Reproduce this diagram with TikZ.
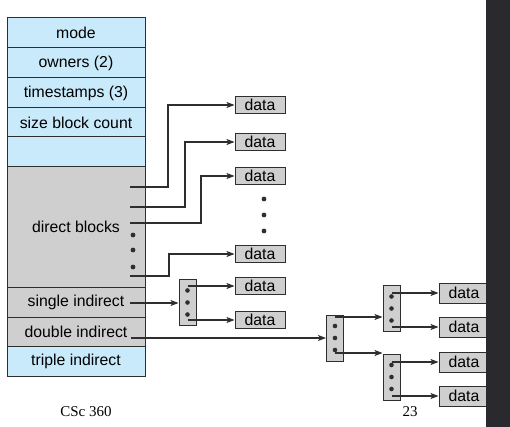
\documentclass[tikz,border=0pt]{standalone}
\usepackage{fontspec}
\setmainfont{Liberation Sans}
\newfontfamily\footfont{Liberation Serif}
\usetikzlibrary{arrows.meta}
\definecolor{inodeblue}{HTML}{C8EAFA}
\definecolor{blockgray}{HTML}{CFCFCF}
\definecolor{linegray}{HTML}{2E2E2E}
\definecolor{bargray}{HTML}{2A2A2E}

\begin{document}
\begin{tikzpicture}[x=1pt,y=-1pt]

\tikzset{field/.style = {shape=rectangle,draw=linegray,line width=1pt,minimum width=138pt,inner sep=0pt,font=\fontsize{15.8}{18}\selectfont}}
\tikzset{datablock/.style = {shape=rectangle,draw=linegray,fill=blockgray,line width=1pt,minimum width=50pt,minimum height=17pt,inner sep=0pt,font=\fontsize{15.8}{18}\selectfont}}
\tikzset{ptrblock/.style = {shape=rectangle,draw=linegray,fill=blockgray,line width=1pt,minimum width=17pt,minimum height=46pt,inner sep=0pt}}
\tikzset{edge/.style = {-{Stealth[length=8pt,width=6pt,inset=2pt]},draw=linegray,line width=1.1pt}}
\tikzset{dot/.style = {fill=linegray}}

\useasboundingbox (0,0) rectangle (510,427);

%inode fields
\node[field, fill=inodeblue, minimum height=30pt] (mode) at (76,33) {mode};
\node[field, fill=inodeblue, minimum height=30pt] (owners) at (76,63) {owners (2)};
\node[field, fill=inodeblue, minimum height=30pt] (stamps) at (76,93) {timestamps (3)};
\node[field, fill=inodeblue, minimum height=29pt] (size) at (76,122.5) {size block count};
\node[field, fill=inodeblue, minimum height=30pt] (blank) at (76,152) {};
\node[field, fill=blockgray, minimum height=120pt] (direct) at (76,227) {direct blocks};
\node[field, fill=blockgray, minimum height=30pt] (single) at (76,302) {single indirect};
\node[field, fill=blockgray, minimum height=29pt] (double) at (76,331.5) {double indirect};
\node[field, fill=inodeblue, minimum height=30pt] (triple) at (76,361) {triple indirect};

%pointer starts
\coordinate (p1) at (130,187);
\coordinate (p2) at (130,207);
\coordinate (p3) at (130,223);
\coordinate (p4) at (130,276);
\coordinate (s1) at (130,303);
\coordinate (dd) at (131,338);

%data blocks
\node[datablock] (d1) at (260,105) {data};
\node[datablock] (d2) at (260,142) {data};
\node[datablock] (d3) at (260,176) {data};
\node[datablock] (d4) at (260,254) {data};
\node[datablock] (d5) at (260,286) {data};
\node[datablock] (d6) at (260,320) {data};
\node[datablock, minimum height=20pt] (r1) at (464,293) {data};
\node[datablock, minimum height=20pt] (r2) at (464,327) {data};
\node[datablock, minimum height=20pt] (r3) at (464,362) {data};
\node[datablock, minimum height=20pt] (r4) at (464,396) {data};

%index blocks
\node[ptrblock] (sb) at (187.5,302.5) {};
\node[ptrblock] (db1) at (335,338) {};
\node[ptrblock] (db2) at (391.5,308.5) {};
\node[ptrblock] (db3) at (391.5,377) {};

%dots
\foreach \y in {235,250,267} \fill[dot] (133,\y) circle (2.4pt);
\foreach \y in {199,215,231} \fill[dot] (264,\y) circle (2.4pt);
\foreach \n in {sb,db1,db2,db3}
  \foreach \dy in {-12,0,12} \fill[dot] ([yshift=\dy pt]\n.center) circle (2.3pt);

%edges
\draw[edge] (p1) -- ++(38,0) |- (d1);
\draw[edge] (p2) -- ++(55,0) |- (d2);
\draw[edge] (p3) -- ++(71,0) |- (d3);
\draw[edge] (p4) -- ++(39,0) |- (d4);
\draw[edge] (s1) -- (s1 -| sb.west);
\draw[edge] (sb.center |- d5) -- (d5);
\draw[edge] (sb.center |- d6) -- (d6);
\draw[edge] (dd) -- (dd -| db1.west);
\draw[edge] ([yshift=-15pt]db1.center) -- ([yshift=-15pt]db1.center -| db2.west);
\draw[edge] ([yshift=21pt]db1.center) -- ([yshift=21pt]db1.center -| db3.west);
\draw[edge] (db2.center |- r1) -- (r1);
\draw[edge] (db2.center |- r2) -- (r2);
\draw[edge] (db3.center |- r3) -- (r3);
\draw[edge] (db3.center |- r4) -- (r4);

%slide edge
\fill[bargray] (486,0) rectangle (510,427);
\node[font=\footfont\fontsize{15}{18}\selectfont] (course) at (86,412) {CSc 360};
\node[font=\footfont\fontsize{15}{18}\selectfont] (page) at (410,412) {23};

\end{tikzpicture}
\end{document}
